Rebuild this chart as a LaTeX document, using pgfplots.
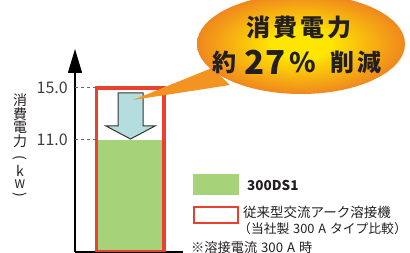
\documentclass[border=0pt]{standalone}
\usepackage{pgfplots}
\pgfplotsset{compat=1.18}
\usepackage{fontspec}
\setmainfont{Noto Sans CJK JP}
\usetikzlibrary{arrows.meta}
\definecolor{barred}{HTML}{E9412D}
\definecolor{bargreen}{HTML}{A6D279}
\definecolor{arrowfill}{HTML}{B4DEDE}
\definecolor{bubY}{HTML}{FFE600}
\definecolor{bubO}{HTML}{F0871E}
\definecolor{tailO}{HTML}{F39322}
\definecolor{txt}{HTML}{231F20}
\definecolor{tickgray}{HTML}{404040}
\newcommand\wsp{\hspace{0.3em}}
\pgfdeclareradialshading{bubble}{\pgfpoint{0bp}{0bp}}{color(0bp)=(bubY); color(7bp)=(bubY); color(25bp)=(bubO); color(50bp)=(bubO)}
\begin{document}
\begin{tikzpicture}[x=1pt,y=1pt]
\useasboundingbox (0,0) rectangle (410,253);
\begin{axis}[
  at={(75pt,1pt)}, anchor=south west,
  scale only axis, width=108pt, height=203pt,
  xmin=0, xmax=108, ymin=2.3846, ymax=18.0,
  enlargelimits=false,
  axis lines=left,
  axis line style={line width=1.5pt, black},
  x axis line style={-},
  y axis line style={-{Triangle[length=24pt,width=14pt]}},
  xtick=\empty, ytick={11,15}, yticklabels={11.0,15.0},
  major tick length=0pt,
  yticklabel style={font=\fontsize{16}{16}\selectfont, text=tickgray, anchor=east, inner sep=0pt, xshift=-7pt},
  /pgf/number format/assume math mode=true,
  clip=true,
]
\addplot[draw=black!60, line width=1pt, dash pattern=on 3pt off 3pt] coordinates {(0,15)(20,15)};
\addplot[draw=black!60, line width=1pt, dash pattern=on 3pt off 3pt] coordinates {(0,11)(20,11)};
\addplot[ybar, bar width=67.7, fill=bargreen, draw=none] coordinates {(55.15,11)};
\addplot[ybar, bar width=67.7, draw=barred, line width=3.5pt, fill=none] coordinates {(55.15,15)};
\end{axis}
% down arrow
\draw[fill=arrowfill, draw=black!80, line width=1pt, line join=miter]
  (118,160) -- (143,160) -- (143,127) -- (155,127) -- (130.5,114) -- (106,127) -- (118,127) -- cycle;
% bubble tail and body
\fill[tailO] (133,153) -- (212,185) -- (230,168) -- cycle;
\shade[shading=bubble] (301,209) ellipse [x radius=104, y radius=50];
% bubble text
\node[inner sep=0pt, text=txt, font=\fontsize{24}{24}\selectfont\bfseries] at (299,226) {消\kern3pt 費\kern3pt 電\kern3pt 力};
\node[inner sep=0pt, text=txt, font=\fontsize{24}{24}\selectfont\bfseries] at (224,191) {約};
\node[inner sep=0pt, text=txt, font=\fontsize{33}{33}\selectfont\bfseries] at (265,191) {27};
\node[inner sep=0pt, text=txt, font=\fontsize{27}{27}\selectfont\bfseries] at (303,191) {\%};
\node[inner sep=0pt, text=txt, font=\fontsize{24}{24}\selectfont\bfseries] at (356,191) {削\kern3pt 減};
% y label (vertical)
\node[inner sep=0pt, text=txt, font=\fontsize{14}{14}\selectfont] at (20,153) {消};
\node[inner sep=0pt, text=txt, font=\fontsize{14}{14}\selectfont] at (20,139) {費};
\node[inner sep=0pt, text=txt, font=\fontsize{14}{14}\selectfont] at (20,125.5) {電};
\node[inner sep=0pt, text=txt, font=\fontsize{14}{14}\selectfont] at (20,112) {力};
\node[inner sep=0pt, text=txt, font=\fontsize{14}{14}\selectfont] at (20,95.5) {\rotatebox{-90}{(}};
\node[inner sep=0pt, text=txt, font=\fontsize{14}{14}\selectfont] at (20,82) {k};
\node[inner sep=0pt, text=txt, font=\fontsize{12}{12}\selectfont] at (20,69) {W};
\node[inner sep=0pt, text=txt, font=\fontsize{14}{14}\selectfont] at (20,58) {\rotatebox{-90}{)}};
% legend
\fill[bargreen] (193,58) rectangle (239,79);
\draw[barred, line width=2pt] (194,30) rectangle (238,46);
\node[anchor=west, inner sep=0pt, text=txt, font=\fontsize{13.5}{13.5}\selectfont\bfseries] at (247,68) {300DS1};
\node[anchor=west, inner sep=0pt, text=txt, font=\fontsize{13.5}{13.5}\selectfont] at (243,41) {従来型交流アーク溶接機};
\node[anchor=west, inner sep=0pt, text=txt, font=\fontsize{12.8}{12.8}\selectfont] at (238,24) {（当社製\wsp 300\wsp A\wsp タイプ比較）};
\node[anchor=west, inner sep=0pt, text=txt, font=\fontsize{13.2}{13.2}\selectfont] at (191,6) {※溶接電流\wsp 300\wsp A\wsp 時};
\end{tikzpicture}
\end{document}
